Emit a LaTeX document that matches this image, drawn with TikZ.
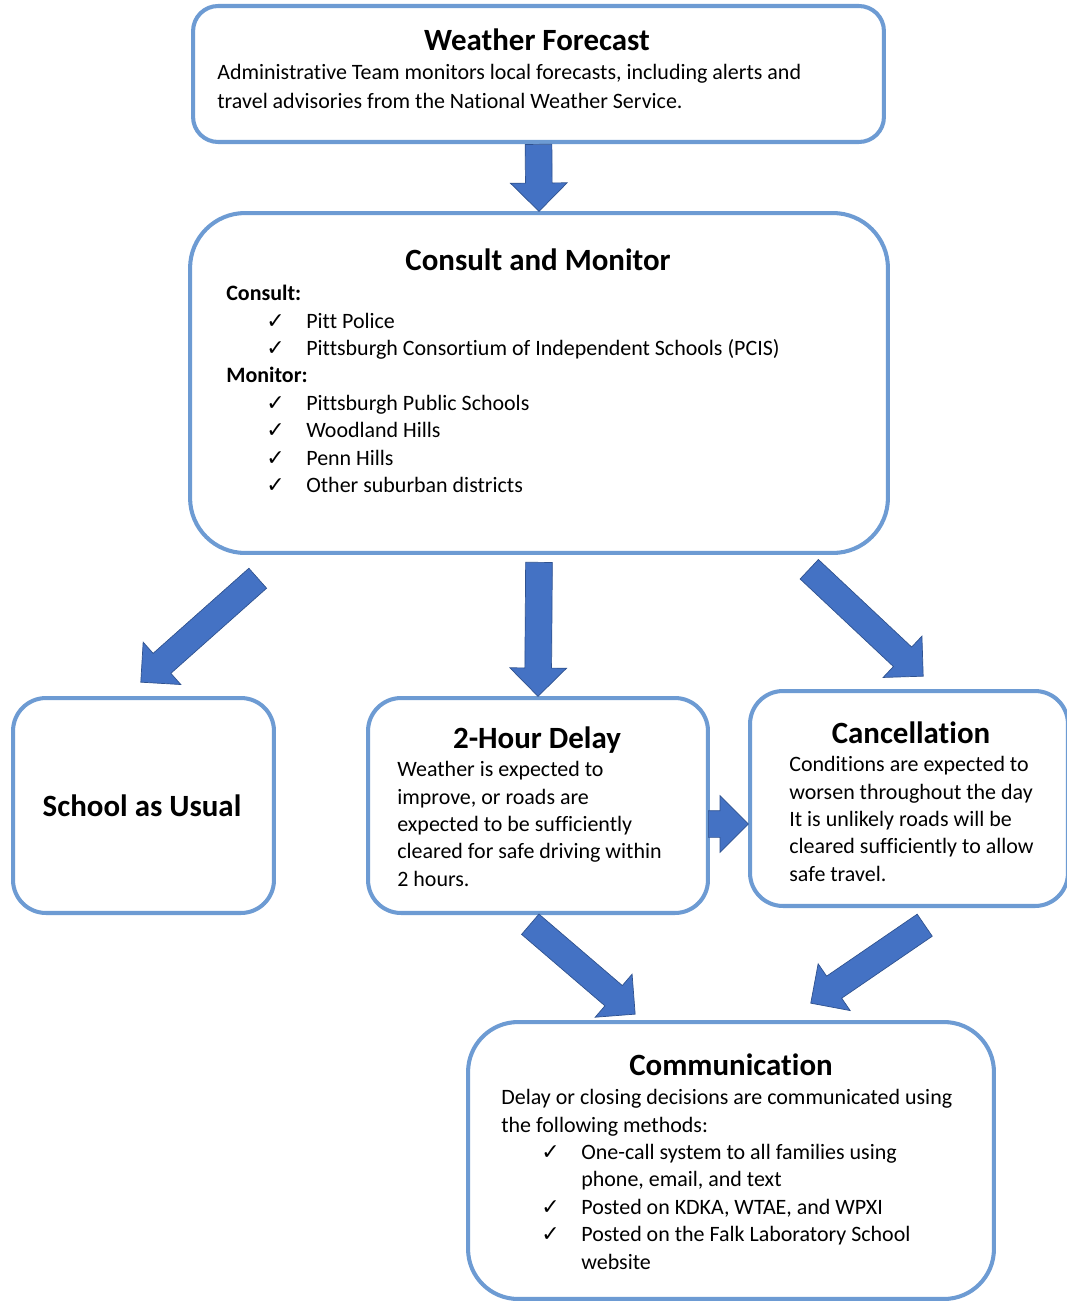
\documentclass[tikz,border=0pt]{standalone}
\usepackage{fontspec}
\setmainfont{Carlito}[Ligatures=NoCommon]
\newfontfamily\tickfont{DejaVu Sans}
\usetikzlibrary{shapes.arrows,calc}

\definecolor{boxline}{RGB}{109,155,211}
\definecolor{arrowfill}{RGB}{68,114,196}
\definecolor{arrowline}{RGB}{47,82,143}

\newcommand{\tick}{\hspace*{0.8cm}\makebox[0.8cm][l]{\tickfont\bfseries\fontsize{12.5}{15}\selectfont ✓}}
\newcommand{\fatarrow}[2]{%
	\path let \p1=($(#2)-(#1)$), \n1={atan2(\y1,\x1)}, \n2={veclen(\x1,\y1)} in
		node [fat, rotate=\n1, minimum height=\n2, anchor=tail] at (#1) {};}

\begin{document}
\begin{tikzpicture}[x=0.02cm,y=-0.02cm,
	box/.style={draw=boxline,line width=2.3pt,fill=white,rounded corners=0.66cm},
	title/.style={font=\bfseries\fontsize{17.6}{21}\selectfont,anchor=base,inner sep=0},
	body/.style={font=\fontsize{12.5}{15.6}\selectfont,align=left,anchor=north west,inner sep=0},
	fat/.style={single arrow,draw=arrowline,fill=arrowfill,thin,inner sep=0.26cm,
		single arrow head extend=0.3cm,single arrow tip angle=90,minimum width=0pt}]
	\fill [white] (0,0) rectangle (1066,1301);
	\useasboundingbox (0,0) rectangle (1066,1301);

	% boxes
	\node (wf) at (538.5,   74) [box, rounded corners=0.5cm, minimum width=13.82cm, minimum height=2.72cm] {};
	\node (cm) at (  539,  383) [box, rounded corners=1.1cm, minimum width=13.96cm, minimum height=6.8cm] {};
	\node (su) at (143.5,805.5) [box, minimum width=5.22cm, minimum height=4.3cm] {};
	\node (hd) at (  538,805.5) [box, minimum width=6.8cm, minimum height=4.3cm] {};
	\node (ca) at (  909,798.5) [box, minimum width=6.36cm, minimum height=4.3cm] {};
	\node (co) at (  731,1160.5) [box, rounded corners=1cm, minimum width=10.52cm, minimum height=5.54cm] {};

	% texts
	\node (wft) at (537,  51) [title] {Weather Forecast};
	\node (wfb) at (217,  64) [body, font=\fontsize{12.5}{16.5}\selectfont]
		{Administrative Team monitors local forecasts, including alerts and\\
		 travel advisories from the National Weather Service.};
	\node (cmt) at (538, 270) [title] {Consult and Monitor};
	\node (cmb) at (226, 285) [body]
		{\textbf{Consult:}\\
		 \tick Pitt Police\\
		 \tick Pittsburgh Consortium of Independent Schools (PCIS)\\
		 \textbf{Monitor:}\\
		 \tick Pittsburgh Public Schools\\
		 \tick Woodland Hills\\
		 \tick Penn Hills\\
		 \tick Other suburban districts};
	\node (sut) at (142, 816) [title] {School as Usual};
	\node (hdt) at (537, 748) [title] {2-Hour Delay};
	\node (hdb) at (397, 761) [body]
		{Weather is expected to\\
		 improve, or roads are\\
		 expected to be sufficiently\\
		 cleared for safe driving within\\
		 2 hours.};
	\node (cat) at (911, 743) [title] {Cancellation};
	\node (cab) at (789, 756) [body]
		{Conditions are expected to\\
		 worsen throughout the day\\
		 It is unlikely roads will be\\
		 cleared sufficiently to allow\\
		 safe travel.};
	\node (cot) at (731,1075) [title] {Communication};
	\node (cob) at (501,1089) [body]
		{Delay or closing decisions are communicated using\\
		 the following methods:\\
		 \tick One-call system to all families using\\
		 \hspace*{1.6cm}phone, email, and text\\
		 \tick Posted on KDKA, WTAE, and WPXI\\
		 \tick Posted on the Falk Laboratory School\\
		 \hspace*{1.6cm}website};

	% arrows
	\coordinate (a2s) at (258,578);  \coordinate (a2e) at (141,682);
	\coordinate (a3s) at (539,562);
	\coordinate (a4s) at (809,569);  \coordinate (a4e) at (923,676);
	\coordinate (a5s) at (708,824);  \coordinate (a5e) at (748,824);
	\coordinate (a6s) at (530,924);  \coordinate (a6e) at (635,1014);
	\coordinate (a7s) at (925,925);  \coordinate (a7e) at (811,1003);
	\fatarrow{wf.south}{cm.north}
	\fatarrow{a2s}{a2e}
	\fatarrow{a3s}{hd.north}
	\fatarrow{a4s}{a4e}
	\fatarrow{a5s}{a5e}
	\fatarrow{a6s}{a6e}
	\fatarrow{a7s}{a7e}
\end{tikzpicture}
\end{document}
